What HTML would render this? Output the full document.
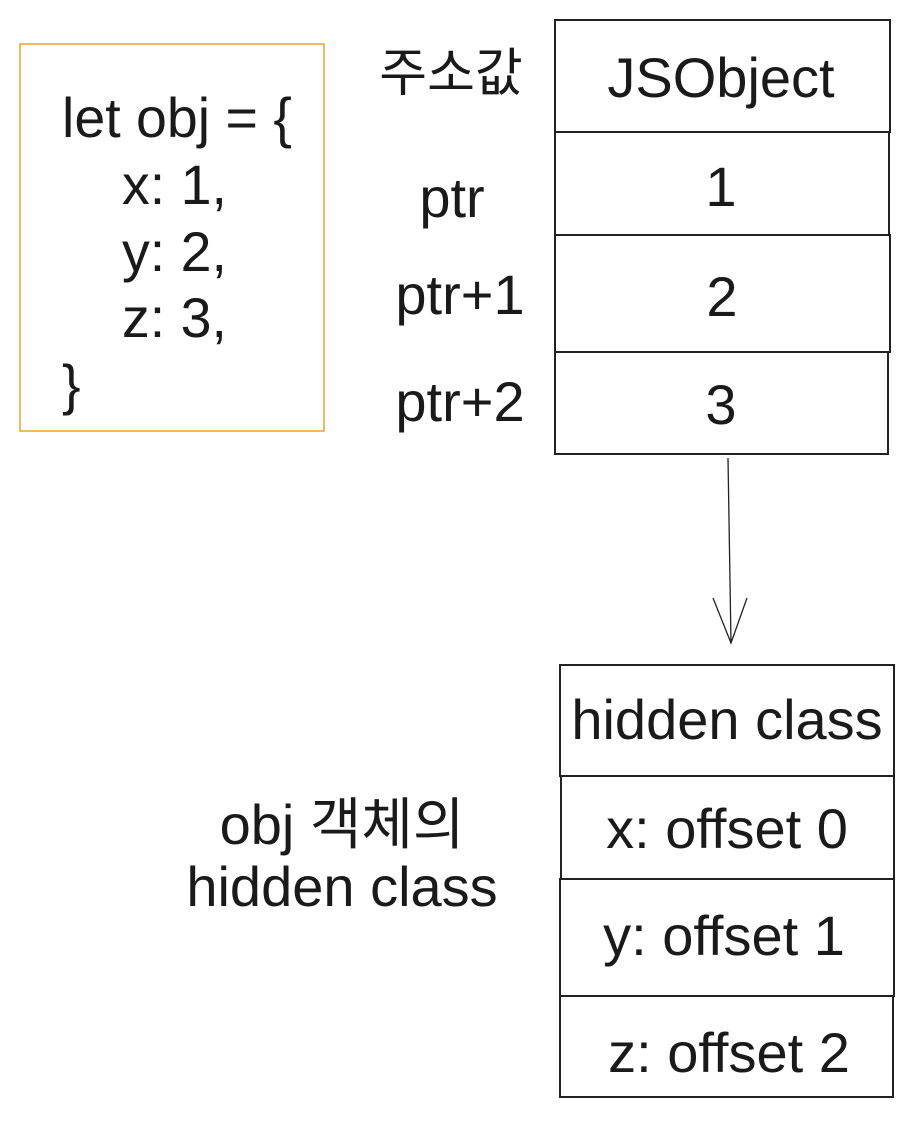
<!DOCTYPE html>
<html><head><meta charset="utf-8"><style>
body{margin:0;background:#fff;}
svg text{font-family:"Liberation Sans","Noto Sans CJK KR",sans-serif;fill:#1a1a1a;}
</style></head><body>
<svg width="914" height="1118" viewBox="0 0 914 1118" xmlns="http://www.w3.org/2000/svg">
<rect x="20" y="44" width="304" height="387" fill="none" stroke="#f0a030" stroke-width="1.5"/>
<g font-size="55.5">
<text x="62" y="137">let obj = {</text>
<text x="122" y="204">x: 1,</text>
<text x="122" y="271">y: 2,</text>
<text x="122" y="337">z: 3,</text>
<text x="62" y="404">}</text>
</g>
<g fill="none" stroke="#222" stroke-width="2">
<rect x="555" y="20" width="335" height="112"/>
<rect x="555" y="132" width="334" height="103"/>
<rect x="555" y="235" width="335" height="117"/>
<rect x="555" y="352" width="333" height="102"/>
<rect x="560" y="665" width="334" height="111"/>
<rect x="561" y="776" width="333" height="103"/>
<rect x="560" y="879" width="334" height="117"/>
<rect x="560" y="996" width="333" height="101"/>
<path d="M728 458 L731 643 M713 598 L731 643 L747 598" stroke-width="1.3"/>
</g>
<g font-size="56" text-anchor="middle">
<text x="721" y="97">JSObject</text>
<text x="721" y="206">1</text>
<text x="722" y="316">2</text>
<text x="721" y="424">3</text>
<text x="727" y="739">hidden class</text>
<text x="727" y="848">x: offset 0</text>
<text x="724" y="955">y: offset 1</text>
<text x="729" y="1072">z: offset 2</text>
<text x="451" y="91" font-size="52">주소값</text>
<text x="452" y="217">ptr</text>
<text x="460" y="314">ptr+1</text>
<text x="460" y="421">ptr+2</text>
<text x="342" y="844">obj 객체의</text>
<text x="342" y="906">hidden class</text>
</g>
</svg>
</body></html>
